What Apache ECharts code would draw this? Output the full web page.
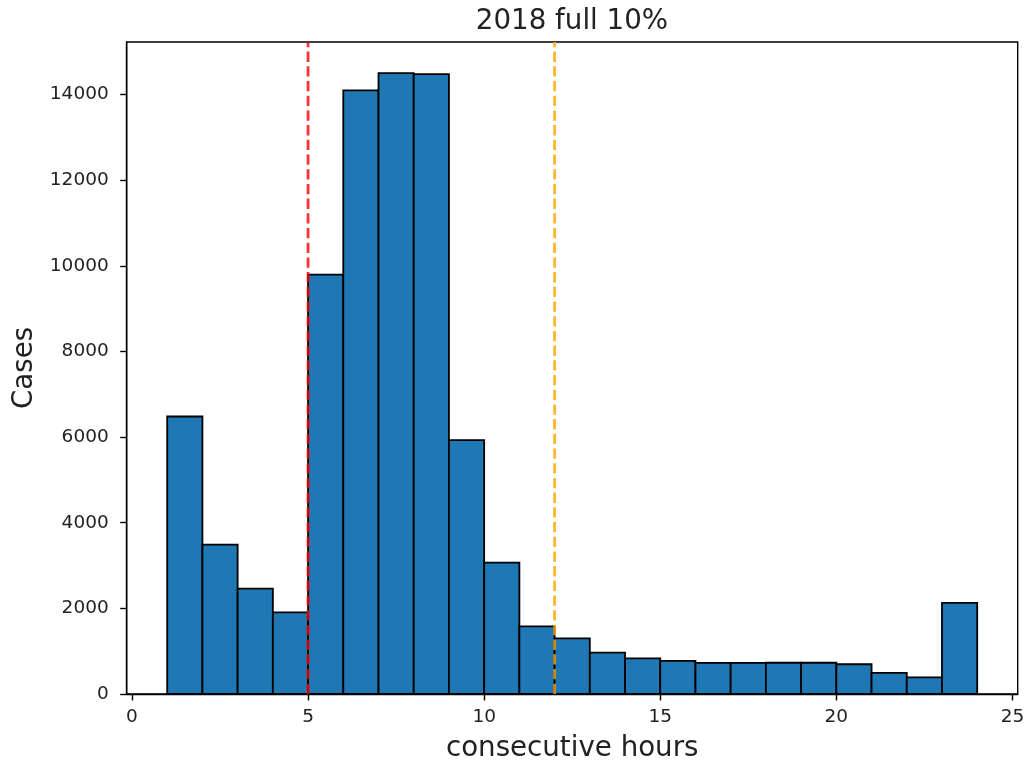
<!DOCTYPE html>
<html>
<head>
<meta charset="utf-8">
<script src="https://cdn.jsdelivr.net/npm/echarts@6/dist/echarts.min.js"></script>
<style>
  html, body { margin: 0; padding: 0; background: #fff; }
  #chart { width: 1024px; height: 761px; }
</style>
</head>
<body>
<div id="chart"></div>
<script>
// histogram bins (1 hour wide) and counts
const binEdges = [1, 2, 3, 4, 5, 6, 7, 8, 9, 10, 11, 12, 13, 14, 15, 16, 17, 18, 19, 20, 21, 22, 23, 24];
const counts = [6480, 3490, 2460, 1905, 9795, 14095, 14500, 14475, 5930, 3070, 1580, 1300,
                965, 830, 775, 725, 725, 730, 730, 695, 495, 390, 2130];
const xTicks = [0, 5, 10, 15, 20, 25];
const yTicks = [0, 2000, 4000, 6000, 8000, 10000, 12000, 14000];
const redLineX = 5;
const orangeLineX = 12;
const xMin = -0.15, xMax = 25.15, yMax = 15225;

const font = 'DejaVu Sans';
const txt = '#222';

const barData = counts.map((c, i) => [binEdges[i], binEdges[i + 1], c]);

const chart = echarts.init(document.getElementById('chart'));

chart.setOption({
  animation: false,
  title: {
    text: '2018 full 10%',
    left: 572,
    top: 8,
    padding: 0,
    textAlign: 'center',
    textStyle: { fontFamily: font, fontSize: 27.7, fontWeight: 'normal', color: txt }
  },
  grid: {
    left: 126.7,
    right: 6.3,
    top: 42,
    bottom: 67,
    outerBoundsMode: 'none',
    show: true,
    borderColor: '#000',
    borderWidth: 1.4
  },
  xAxis: {
    type: 'value',
    min: xMin,
    max: xMax,
    name: 'consecutive hours',
    nameLocation: 'middle',
    nameGap: 41,
    nameTextStyle: { fontFamily: font, fontSize: 27.7, color: txt },
    axisLine: { show: true, onZero: false, lineStyle: { color: '#000', width: 1.4 } },
    axisTick: { show: true, length: 6.5, lineStyle: { color: '#000', width: 1.4 }, customValues: xTicks },
    axisLabel: { fontFamily: font, fontSize: 18.5, color: txt, margin: 14, customValues: xTicks },
    splitLine: { show: false }
  },
  yAxis: {
    type: 'value',
    min: 0,
    max: yMax,
    name: 'Cases',
    nameLocation: 'middle',
    nameRotate: 90,
    nameGap: 82,
    nameTextStyle: { fontFamily: font, fontSize: 27.7, color: txt },
    axisLine: { show: true, onZero: false, lineStyle: { color: '#000', width: 1.4 } },
    axisTick: { show: true, length: 6.5, lineStyle: { color: '#000', width: 1.4 }, customValues: yTicks },
    axisLabel: {
      fontFamily: font, fontSize: 18.5, color: txt, margin: 18, customValues: yTicks,
      formatter: function (v) { return String(v); }
    },
    splitLine: { show: false }
  },
  series: [
    {
      type: 'custom',
      data: barData,
      encode: { x: [0, 1], y: 2 },
      renderItem: function (params, api) {
        const p0 = api.coord([api.value(0), 0]);
        const p1 = api.coord([api.value(1), api.value(2)]);
        return {
          type: 'rect',
          shape: { x: p0[0], y: p1[1], width: p1[0] - p0[0], height: p0[1] - p1[1] },
          style: { fill: '#1f77b4', stroke: '#000', lineWidth: 1.8 }
        };
      },
      z: 2
    },
    {
      type: 'line',
      data: [[redLineX, 0], [redLineX, yMax]],
      symbol: 'none',
      lineStyle: { color: 'rgba(255,0,0,0.8)', width: 2.8, type: [10.3, 4.4] },
      z: 3
    },
    {
      type: 'line',
      data: [[orangeLineX, 0], [orangeLineX, yMax]],
      symbol: 'none',
      lineStyle: { color: 'rgba(255,165,0,0.8)', width: 2.8, type: [10.3, 4.4] },
      z: 3
    }
  ]
});
</script>
</body>
</html>
